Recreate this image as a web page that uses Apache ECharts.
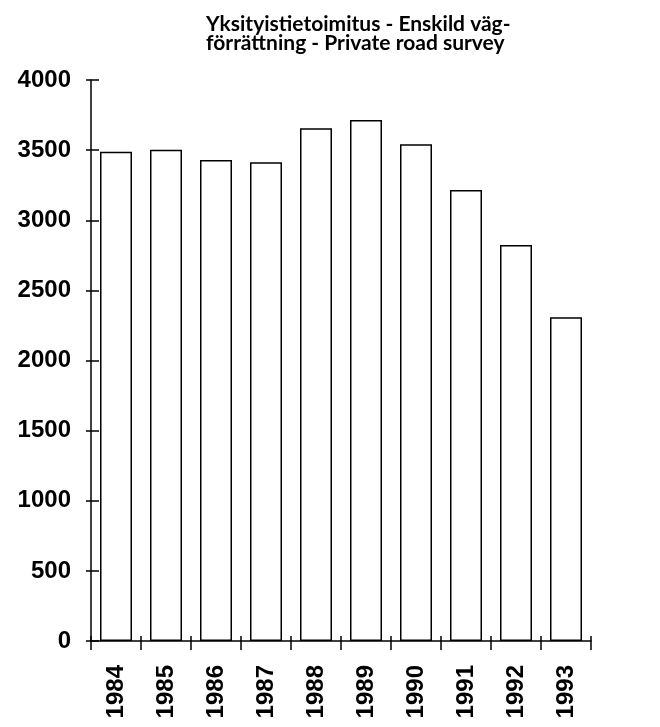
<!DOCTYPE html>
<html>
<head>
<meta charset="utf-8">
<script src="https://cdn.jsdelivr.net/npm/echarts@6/dist/echarts.min.js"></script>
<style>html,body{margin:0;padding:0;background:#fff;}#c{width:660px;height:727px;}</style>
</head>
<body>
<div id="c"></div>
<script>
const titleText = "Yksityistietoimitus - Enskild väg-\nförrättning - Private road survey";
const years = ["1984","1985","1986","1987","1988","1989","1990","1991","1992","1993"];
const values = [3489, 3503, 3430, 3413, 3656, 3715, 3541, 3216, 2824, 2308];
const yTicks = {min: 0, max: 4000, interval: 500};

const chart = echarts.init(document.getElementById('c'));
const axisFont = {color: '#000', fontFamily: 'Liberation Sans, Arial, sans-serif', fontSize: 24, fontWeight: 'bold'};
chart.setOption({
  animation: false,
  backgroundColor: '#fff',
  title: {
    text: titleText,
    left: 201, top: 10,
    textStyle: {fontFamily: 'Lato, sans-serif', fontSize: 21, fontWeight: 'bold', color: '#000', lineHeight: 19}
  },
  grid: {left: 91, right: 69, top: 80, bottom: 86},
  xAxis: [{
    type: 'category', data: years, position: 'bottom',
    axisLine: {lineStyle: {color: '#000', width: 1.5}},
    axisTick: {show: true, interval: 0, alignWithLabel: false, length: 9, inside: false, lineStyle: {color: '#000', width: 1.5}},
    axisLabel: Object.assign({rotate: 90, margin: 24, interval: 0}, axisFont),
    splitLine: {show: false}
  }, {
    type: 'category', data: years, position: 'bottom',
    axisLine: {show: false},
    axisTick: {show: true, interval: 0, alignWithLabel: false, length: 5, inside: true, lineStyle: {color: '#000', width: 1.5}},
    axisLabel: {show: false}, splitLine: {show: false}
  }],
  yAxis: [{
    type: 'value', min: yTicks.min, max: yTicks.max, interval: yTicks.interval,
    axisLine: {show: true, lineStyle: {color: '#000', width: 1.5}},
    axisTick: {show: true, length: 5, lineStyle: {color: '#000', width: 1.5}},
    axisLabel: Object.assign({margin: 20, formatter: function (v) { return String(v); }}, axisFont),
    splitLine: {show: false}
  }, {
    type: 'value', min: yTicks.min, max: yTicks.max, interval: yTicks.interval, position: 'left',
    axisLine: {show: false},
    axisTick: {show: true, length: 8, inside: true, lineStyle: {color: '#000', width: 1.5}},
    axisLabel: {show: false}, splitLine: {show: false}
  }],
  series: [{
    type: 'bar', data: values, xAxisIndex: 0, yAxisIndex: 0,
    barWidth: 32,
    itemStyle: {color: '#fff', borderColor: '#000', borderWidth: 1.5}
  }]
});
</script>
</body>
</html>
